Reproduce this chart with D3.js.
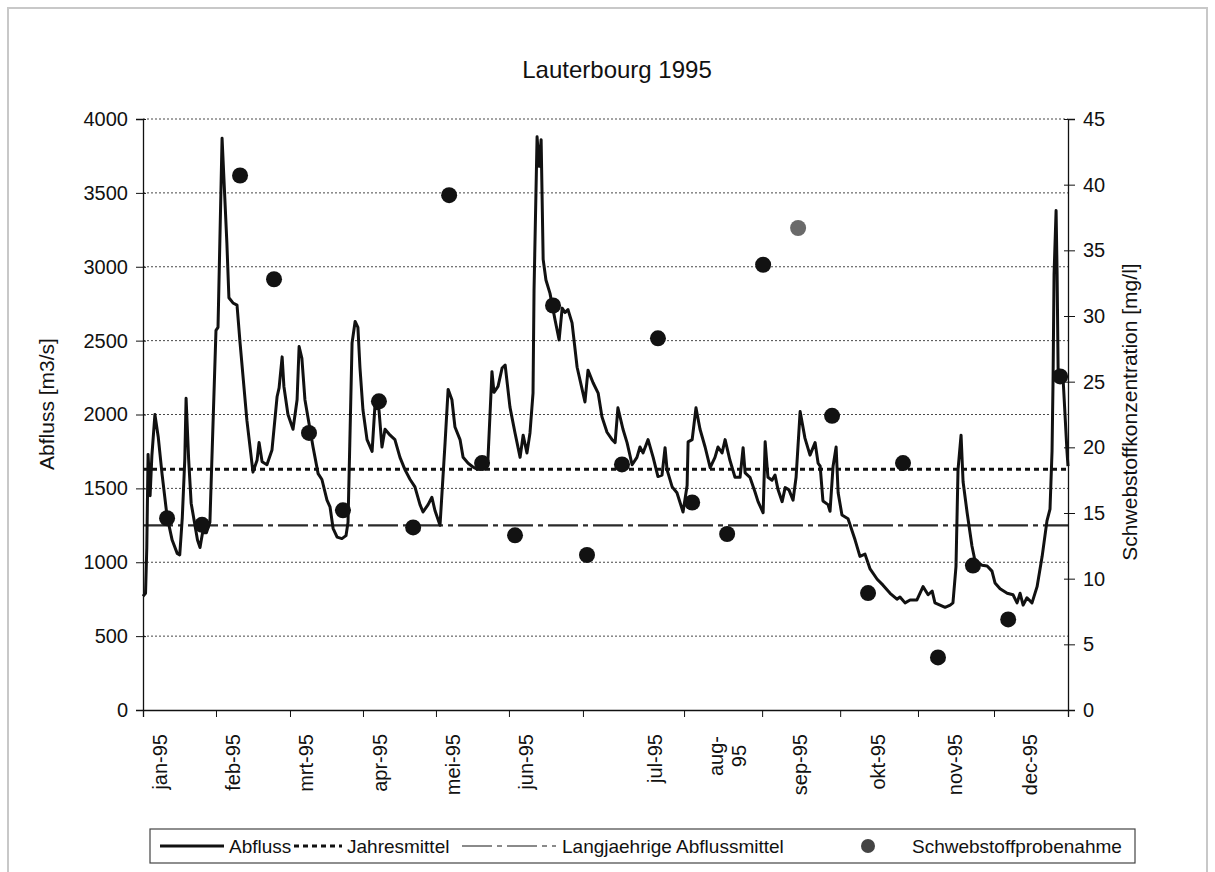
<!DOCTYPE html>
<html>
<head>
<meta charset="utf-8">
<script src="https://cdn.jsdelivr.net/npm/d3@7"></script>
<style>
  body { margin: 0; background: #fff; }
  svg text { font-family: Arial, 'Liberation Sans', sans-serif; fill: #111; }
</style>
</head>
<body>
<svg id="chart" width="1215" height="872"></svg>
<script>
// daily discharge (day of year, m3/s)
const flowDay = [0,1,1.5,2,2.8,3.5,4.7,6,7.5,9.5,11.5,13.5,14.5,15.5,16.5,17,18,19,20.5,21.5,22.5,23.5,25,26.4,
  28.8,29.6,31.2,33.1,33.9,35.5,37.1,38.3,41,43.4,45,45.8,47,48.9,50.9,52.9,53.7,54.9,55.6,57.2,59.2,60.8,61.6,62.7,
  63.9,65.9,67.1,69.1,70.6,72.6,73.8,75,76.6,78.5,80.1,80.9,82.5,83.7,84.8,85.6,86.8,88.4,90.4,91.6,92.3,92.7,94.3,
  95.5,97.5,99.4,101.4,103.4,105.4,107.3,109.3,110.5,112.5,114,115.2,117.2,119.2,120.4,121.9,123.1,125.1,126.3,128.3,
  130.2,131.8,133.8,136.1,137.7,138.5,140.1,141.7,142.9,144.8,146.8,148.8,150,151.5,152.7,153.9,154.3,155.5,156.3,
  157.1,157.9,159,160.6,162.6,164.2,165.4,166.5,167.7,169.3,171.3,174.4,175.6,177.6,179.6,181.1,183.1,185.1,186.3,
  187.4,189.4,191,193,194.9,196.1,197.3,199.3,201.3,203.2,204.8,206,206.8,208.8,210.7,213.1,214.7,215.1,216.7,218.2,
  219.8,221.8,223.8,225.7,226.9,228.5,229.7,231.6,233.6,235.6,236.8,237.6,239.5,241.5,242.7,244.7,245.5,246.6,248.2,
  249.4,250.6,252.2,253.4,254.9,256.5,257.7,259.3,261.2,263.2,265.2,266.4,267.2,268.3,270.3,271.1,272.3,273.5,274.3,
  275.8,278.2,281,282.9,284.9,286.9,289.7,292,294.8,297.5,298.7,300.7,302.7,305.4,307.8,309.8,311.4,312.5,314.5,
  316.5,318.5,319.6,320.8,321.6,322.8,323.6,325.2,327.1,328.3,331.1,333.1,335,336.2,338.2,341,343.3,344.9,346.1,
  347.3,348.8,350.8,352.8,354.8,356.7,357.9,358.7,359.1,359.5,360.3,360.7,361.1,363.1,364.6,365];
const flowQ = [770,790,1100,1730,1450,1720,2000,1850,1600,1310,1150,1060,1050,1300,1700,2110,1700,1400,1250,1150,1100,1200,1200,1270,
  2570,2590,3870,3160,2790,2755,2740,2485,1960,1610,1690,1810,1680,1660,1760,2120,2180,2390,2190,2000,1900,2100,2460,2380,
  2100,1900,1780,1600,1560,1420,1375,1230,1170,1160,1180,1270,2485,2630,2590,2320,2030,1830,1750,2080,2040,2120,1780,
  1900,1860,1830,1710,1625,1560,1510,1390,1340,1390,1440,1350,1250,1810,2170,2100,1915,1830,1710,1670,
  1645,1630,1650,1690,2290,2150,2190,2315,2335,2050,1875,1710,1860,1740,1875,2145,2840,3880,3680,
  3860,3050,2910,2820,2640,2505,2720,2690,2710,2620,2320,2085,2300,2215,2145,1985,1880,1830,1810,
  2045,1900,1810,1660,1710,1780,1740,1830,1710,1580,1590,1775,1625,1510,1470,1340,1520,1815,1830,2045,
  1900,1780,1640,1710,1780,1740,1830,1690,1575,1575,1775,1605,1575,1475,1410,1335,1815,1575,1555,
  1590,1490,1410,1505,1490,1420,1575,2020,1840,1725,1810,1670,1650,1415,1390,1345,1650,1780,1470,
  1320,1295,1150,1040,1055,955,885,845,790,750,765,725,745,745,835,780,805,725,710,
  695,710,725,970,1625,1860,1545,1335,1110,1010,980,975,940,860,820,790,780,725,790,
  710,760,725,835,1040,1280,1360,1750,2230,2950,3380,2950,2310,2230,1750,1650];

// suspended sediment samples (day of year, mg/l)
const sampleDay = [9.5,23.3,38.3,51.7,65.5,78.9,93.1,106.6,120.8,133.8,146.8,161.8,175.2,189,203.2,216.7,230.5,
  244.7,258.5,271.9,286.1,299.9,313.7,327.5,341.4,361.9];
const sampleConc = [14.6,14.1,40.7,32.8,21.1,15.2,23.5,13.9,39.2,18.8,13.3,30.8,11.8,18.7,28.3,15.8,13.4,
  33.9,36.7,22.4,8.9,18.8,4.0,11.0,6.9,25.4];

const yearMean = 1630;      // Jahresmittel
const longTermMean = 1250;  // Langjaehrige Abflussmittel

// category ticks and labels as they sit on the scanned axis (day of year)
const tickDays = [0,28.8,58,86.8,115.6,144.4,173.6,213.5,244.3,275.1,305.8,335.8,365];
const labelDays = [6.7,35.5,64.3,93.5,122.3,151.1,202,230.5,259.3,290,320.4,350];
const monthLabels = ['jan-95','feb-95','mrt-95','apr-95','mei-95','jun-95','jul-95','aug-\n95','sep-95','okt-95','nov-95','dec-95'];
const leftTicks = [0,500,1000,1500,2000,2500,3000,3500,4000];
const rightTicks = [0,5,10,15,20,25,30,35,40,45];
const legendLabels = ['Abfluss','Jahresmittel','Langjaehrige Abflussmittel','Schwebstoffprobenahme'];

const svg = d3.select('#chart');
const plot = {left: 143, right: 1068, top: 119, bottom: 710};

const x = d3.scaleLinear().domain([0, 365]).range([plot.left, plot.right]);
const yL = d3.scaleLinear().domain([0, 4000]).range([plot.bottom, plot.top]);
const yR = d3.scaleLinear().domain([0, 45]).range([plot.bottom, plot.top]);

// scanned page frame
svg.append('rect')
    .attr('x', 8).attr('y', 8).attr('width', 1199).attr('height', 900)
    .attr('fill', 'none').attr('stroke', '#c8c8c8').attr('stroke-width', 2);

svg.append('text')
    .attr('x', 617).attr('y', 78)
    .attr('text-anchor', 'middle')
    .style('font-size', '24px')
    .text('Lauterbourg 1995');

// gridlines
svg.append('g').selectAll('line')
    .data(leftTicks.filter(v => v > 0))
    .enter().append('line')
    .attr('x1', plot.left).attr('x2', plot.right)
    .attr('y1', d => yL(d)).attr('y2', d => yL(d))
    .attr('stroke', '#333')
    .attr('stroke-width', 0.9)
    .attr('stroke-dasharray', '2,2');

// mean lines
svg.append('line')
    .attr('x1', plot.left).attr('x2', plot.right)
    .attr('y1', yL(longTermMean)).attr('y2', yL(longTermMean))
    .attr('stroke', '#2a2a2a').attr('stroke-width', 2.2)
    .attr('stroke-dasharray', '30,5,5,5');

svg.append('line')
    .attr('x1', plot.left).attr('x2', plot.right)
    .attr('y1', yL(yearMean)).attr('y2', yL(yearMean))
    .attr('stroke', '#111').attr('stroke-width', 3)
    .attr('stroke-dasharray', '5,4');

// discharge
const line = d3.line()
    .x(d => x(d[0]))
    .y(d => yL(d[1]));

svg.append('path')
    .datum(d3.zip(flowDay, flowQ))
    .attr('d', line)
    .attr('fill', 'none')
    .attr('stroke', '#111')
    .attr('stroke-width', 3)
    .attr('stroke-linejoin', 'round');

// samples
svg.append('g').selectAll('circle')
    .data(d3.zip(sampleDay, sampleConc))
    .enter().append('circle')
    .attr('cx', d => x(d[0]))
    .attr('cy', d => yR(d[1]))
    .attr('r', 8)
    .attr('fill', (d, i) => i === 18 ? '#6a6a6a' : '#121212');

// axes
const axisStyle = g => {
  g.selectAll('text').style('font-size', '20px').attr('fill', '#111');
  g.selectAll('line').attr('stroke', '#111');
  g.select('.domain').attr('stroke', '#111').attr('stroke-width', 1.3);
};

svg.append('g')
    .attr('transform', `translate(${plot.left},0)`)
    .call(d3.axisLeft(yL).tickValues(leftTicks).tickFormat(d3.format('d'))
        .tickSizeOuter(0).tickSize(7).tickPadding(8))
    .call(axisStyle)
    .call(g => g.selectAll('.tick line').attr('x2', 3).attr('x1', -7));

svg.append('g')
    .attr('transform', `translate(${plot.right},0)`)
    .call(d3.axisRight(yR).tickValues(rightTicks).tickFormat(d3.format('d'))
        .tickSizeOuter(0).tickSize(7).tickPadding(8))
    .call(axisStyle)
    .call(g => g.selectAll('.tick line').attr('x1', -4).attr('x2', 7));

svg.append('g')
    .attr('transform', `translate(0,${plot.bottom})`)
    .call(d3.axisBottom(x).tickValues(tickDays).tickFormat('').tickSizeOuter(0).tickSize(7))
    .call(axisStyle);

// month labels, turned upright
const labelG = svg.append('g');
monthLabels.forEach((lab, i) => {
  const cx = x(labelDays[i]);
  const parts = lab.split('\n');
  const t = labelG.append('text')
      .attr('transform', `translate(${cx},${plot.bottom + 24}) rotate(-90)`)
      .style('font-size', '20px');
  if (parts.length === 1) {
    t.attr('text-anchor', 'end').attr('dy', '0.35em').text(lab);
  } else {
    t.attr('text-anchor', 'middle');
    parts.forEach((p, k) => {
      t.append('tspan')
          .attr('x', -22)
          .attr('dy', k === 0 ? '-0.22em' : '1.15em')
          .text(p);
    });
  }
});

// axis titles
svg.append('text')
    .attr('transform', 'translate(54,404) rotate(-90)')
    .attr('text-anchor', 'middle')
    .style('font-size', '21px')
    .text('Abfluss [m3/s]');

svg.append('text')
    .attr('transform', 'translate(1137,412) rotate(-90)')
    .attr('text-anchor', 'middle')
    .style('font-size', '21px')
    .text('Schwebstoffkonzentration [mg/l]');

// legend
const lg = svg.append('g');
const ly = 846;
lg.append('rect')
    .attr('x', 150).attr('y', 829).attr('width', 985).attr('height', 34)
    .attr('fill', '#fff').attr('stroke', '#444').attr('stroke-width', 1.2);

lg.append('line').attr('x1', 160).attr('x2', 224).attr('y1', ly).attr('y2', ly)
    .attr('stroke', '#111').attr('stroke-width', 3);
lg.append('line').attr('x1', 294).attr('x2', 342).attr('y1', ly).attr('y2', ly)
    .attr('stroke', '#111').attr('stroke-width', 3).attr('stroke-dasharray', '5,4');
lg.append('line').attr('x1', 462).attr('x2', 556).attr('y1', ly).attr('y2', ly)
    .attr('stroke', '#8a8a8a').attr('stroke-width', 2.2).attr('stroke-dasharray', '30,5,5,5');
lg.append('circle').attr('cx', 868).attr('cy', ly).attr('r', 7).attr('fill', '#444');

lg.selectAll('text')
    .data(legendLabels)
    .enter().append('text')
    .attr('x', (d, i) => [229, 347, 562, 912][i])
    .attr('y', ly)
    .attr('dy', '0.35em')
    .style('font-size', '19px')
    .text(d => d);
</script>
</body>
</html>
